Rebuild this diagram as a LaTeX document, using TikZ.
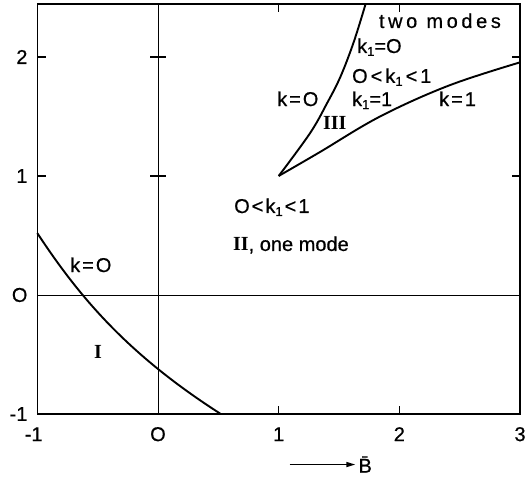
\documentclass[tikz,border=0pt]{standalone}
\usepackage{fontspec}
\setmainfont[FakeBold=0.6]{Liberation Sans}
\newfontfamily\romanfont{Liberation Serif}
\newfontfamily\spacedfont[LetterSpace=18,FakeBold=0.6]{Liberation Sans}
\usetikzlibrary{arrows.meta}
\newcommand{\subone}{\raisebox{-3pt}{\fontsize{13}{13}\selectfont 1}}
\begin{document}
\begin{tikzpicture}[x=120.7pt,y=119pt,
  lbl/.style={font=\fontsize{20}{20}\selectfont, inner sep=0pt},
  rom/.style={font=\romanfont\bfseries\fontsize{20}{20}\selectfont, inner sep=0pt},
  frameline/.style={line width=1.5pt},
  axisline/.style={line width=0.9pt},
  curve/.style={line width=1.9pt},
  tickline/.style={line width=1.1pt}]
\useasboundingbox (-1.309,2.479) rectangle (3.041,-1.571);
% frame
\draw[frameline] (-1,-1) rectangle (3,2.445);
% inner axes
\draw[axisline] (-1,0) -- (3,0);
\draw[axisline] (0,-1) -- (0,2.445);
% ticks
\foreach \yy in {1,2} {
  \draw[tickline] (-1,\yy) -- (-0.93,\yy);
  \draw[tickline] (3,\yy) -- (2.93,\yy);
  \draw[tickline] (-0.065,\yy) -- (0.065,\yy);
}
\foreach \xx in {1,2} {
  \draw[tickline] (\xx,-1) -- (\xx,-0.93);
  \draw[tickline] (\xx,2.445) -- (\xx,2.375);
}
% curve I
\draw[curve] (-1,0.52) .. controls (-0.65,-0.02) and (-0.25,-0.5) .. (0.52,-1);
% curve III branches
\draw[curve] plot[smooth, tension=0.6] coordinates {(1.0,1.0) (1.26,1.36) (1.40,1.61) (1.51,1.83) (1.62,2.12) (1.72,2.445)};
\draw[curve] plot[smooth, tension=0.6] coordinates {(1.0,1.0) (1.34,1.20) (1.84,1.50) (2.41,1.76) (3,1.955)};
% tick labels
\node[lbl, anchor=east] (y2) at (-1.08,2) {2};
\node[lbl, anchor=east] (y1) at (-1.08,1) {1};
\node[lbl, anchor=east] (y0) at (-1.08,0) {O};
\node[lbl, anchor=east] (ym) at (-1.08,-1) {-1};
\node[lbl] (xm) at (-1.03,-1.17) {-1};
\node[lbl] (x0) at (0,-1.17) {O};
\node[lbl] (x1) at (1,-1.17) {1};
\node[lbl] (x2) at (2,-1.17) {2};
\node[lbl] (x3) at (3,-1.17) {3};
% axis title
\coordinate (arrs) at (1.09,-1.425);
\node[lbl, anchor=west] (Bbar) at (1.66,-1.425) {\=B};
\draw[line width=1.4pt, -{Triangle[length=9pt,width=5pt]}] (arrs) -- ([xshift=-3pt]Bbar.west);
% region labels
\node[lbl, anchor=base] (two) at (2.336,2.244) {\spacedfont two modes};
\node[lbl, anchor=base west] (k10) at (1.649,2.034) {k\subone=O};
\node[lbl, anchor=base west] (k1mid) at (1.607,1.782) {O\kern3pt<\kern3pt k\subone\kern3pt<\kern3pt1};
\node[lbl, anchor=base west] (k11) at (1.607,1.588) {k\subone=1};
\node[lbl, anchor=base west] (k1) at (2.328,1.588) {k\kern2pt=\kern2pt1};
\node[lbl, anchor=base west] (k0) at (0.986,1.588) {k\kern2pt=\kern2pt O};
\node[rom, anchor=base west] (III) at (1.367,1.387) {III};
\node[lbl, anchor=base west] (k1low) at (0.63,0.689) {O\kern2pt<\kern2pt k\subone\kern2pt<\kern2pt1};
\node[lbl, anchor=base west] (II) at (0.621,0.37) {{\romanfont\bfseries II}, one mode};
\node[lbl, anchor=base west] (kk0) at (-0.729,0.193) {k\kern2pt=\kern2pt O};
\node[rom, anchor=base] (I) at (-0.497,-0.538) {I};
\end{tikzpicture}
\end{document}
